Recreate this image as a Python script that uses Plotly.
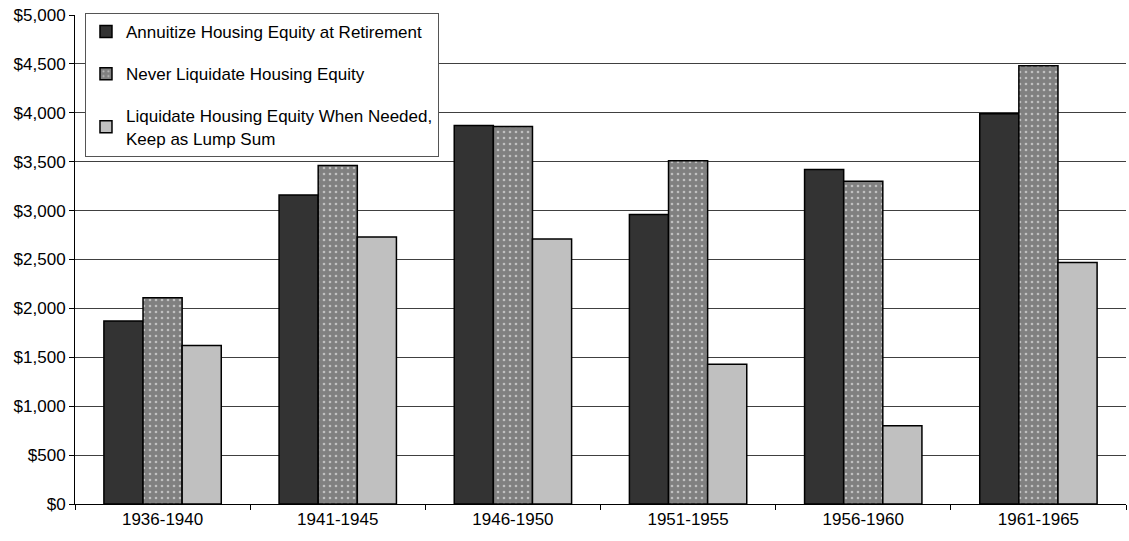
import plotly.graph_objects as go

cohorts = ["1936-1940", "1941-1945", "1946-1950", "1951-1955", "1956-1960", "1961-1965"]
annuitize = [1870, 3160, 3870, 2960, 3420, 3990]
never_liquidate = [2110, 3460, 3860, 3510, 3300, 4480]
lump_sum = [1620, 2730, 2710, 1430, 800, 2470]

series_names = [
    "Annuitize Housing Equity at Retirement",
    "Never Liquidate Housing Equity",
    "Liquidate Housing Equity When Needed,<br>Keep as Lump Sum",
]

fig = go.Figure()
fig.add_trace(go.Bar(
    x=cohorts, y=annuitize, name=series_names[0], legendgroup="a",
    marker=dict(color="#333333", line=dict(color="#000000", width=1.5)),
))
fig.add_trace(go.Bar(
    x=cohorts, y=never_liquidate, name=series_names[1], legendgroup="b",
    marker=dict(color="#808080", line=dict(color="#000000", width=1.5),
                pattern=dict(shape=".", bgcolor="#808080", fgcolor="#ffffff",
                             size=6, solidity=0.15)),
))
fig.add_trace(go.Bar(
    x=cohorts, y=lump_sum, name=series_names[2], legendgroup="c",
    marker=dict(color="#c0c0c0", line=dict(color="#000000", width=1.5)),
))

fig.update_layout(
    width=1129, height=541,
    margin=dict(l=75, r=3, t=15, b=37),
    paper_bgcolor="white", plot_bgcolor="white",
    font=dict(family="Liberation Sans, Arial, sans-serif", size=17, color="#000000"),
    barmode="group", bargap=0.33, bargroupgap=0,
    showlegend=True,
    legend=dict(
        x=0.0095, y=1.004, xanchor="left", yanchor="top",
        bgcolor="white", bordercolor="#555555", borderwidth=1,
        tracegroupgap=17, traceorder="grouped", itemwidth=30,
        font=dict(size=17),
    ),
    xaxis=dict(
        type="category", tickson="boundaries", ticks="outside", ticklen=5,
        tickcolor="#000000", showline=True, linecolor="#000000", linewidth=1,
        showgrid=False,
    ),
    yaxis=dict(
        range=[0, 5000], dtick=500, tickprefix="$", tickformat=",",
        ticks="outside", ticklen=5, tickcolor="#000000",
        showline=True, linecolor="#000000", linewidth=1,
        showgrid=True, gridcolor="#404040", gridwidth=1, zeroline=False,
    ),
)

fig.write_html("out.html")
